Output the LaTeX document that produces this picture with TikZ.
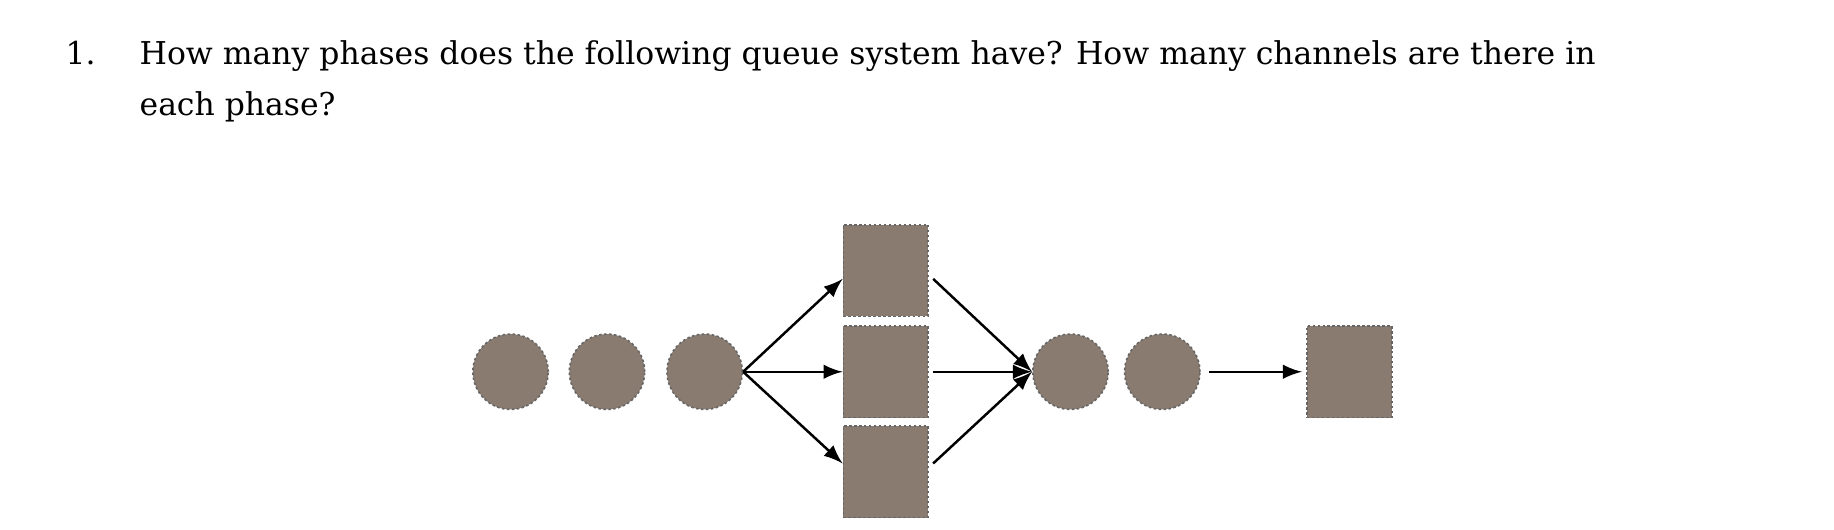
\documentclass[tikz,border=0pt]{standalone}
\usepackage{fontspec}
\setmainfont{DejaVu Serif}
\begin{document}
\begin{tikzpicture}[x=0.01cm,y=-0.01cm,
  srv/.style={draw=black!60,dash pattern=on 0.6pt off 0.6pt,fill={rgb,255:red,138;green,123;blue,112},minimum width=0.72cm,minimum height=0.78cm,inner sep=0pt},
  cust/.style={draw=black!60,dash pattern=on 0.6pt off 0.6pt,fill={rgb,255:red,138;green,123;blue,112},circle,minimum size=0.64cm,inner sep=0pt},
  arr/.style={-latex,line width=0.6pt},
  txt/.style={anchor=base west,inner sep=0pt,font=\fontsize{7.6}{9}\selectfont}]
\useasboundingbox (0,0) rectangle (1559,450);
\node[txt] (num) at (55,55) {1.};
\node[txt] (l1) at (118,55) {How many phases does the following queue system have? How many channels are there in};
\node[txt] (l2) at (118,98) {each phase?};
\node[cust] (c1) at (434,316) {};
\node[cust] (c2) at (516,316) {};
\node[cust] (c3) at (599,316) {};
\node[srv] (s1) at (753,230) {};
\node[srv] (s2) at (753,316) {};
\node[srv] (s3) at (753,401) {};
\node[cust] (c4) at (910,316) {};
\node[cust] (c5) at (988,316) {};
\node[srv] (s4) at (1147,316) {};
\draw[arr] (c3.east) -- ([yshift=-2pt]s1.west);
\draw[arr] (c3.east) -- (s2.west);
\draw[arr] (c3.east) -- ([yshift=2pt]s3.west);
\draw[arr] ([xshift=1pt,yshift=-2pt]s1.east) -- (c4.west);
\draw[arr] ([xshift=1pt]s2.east) -- (c4.west);
\draw[arr] ([xshift=1pt,yshift=2pt]s3.east) -- (c4.west);
\draw[arr] ([xshift=2pt]c5.east) -- ([xshift=-1pt]s4.west);
\end{tikzpicture}
\end{document}
